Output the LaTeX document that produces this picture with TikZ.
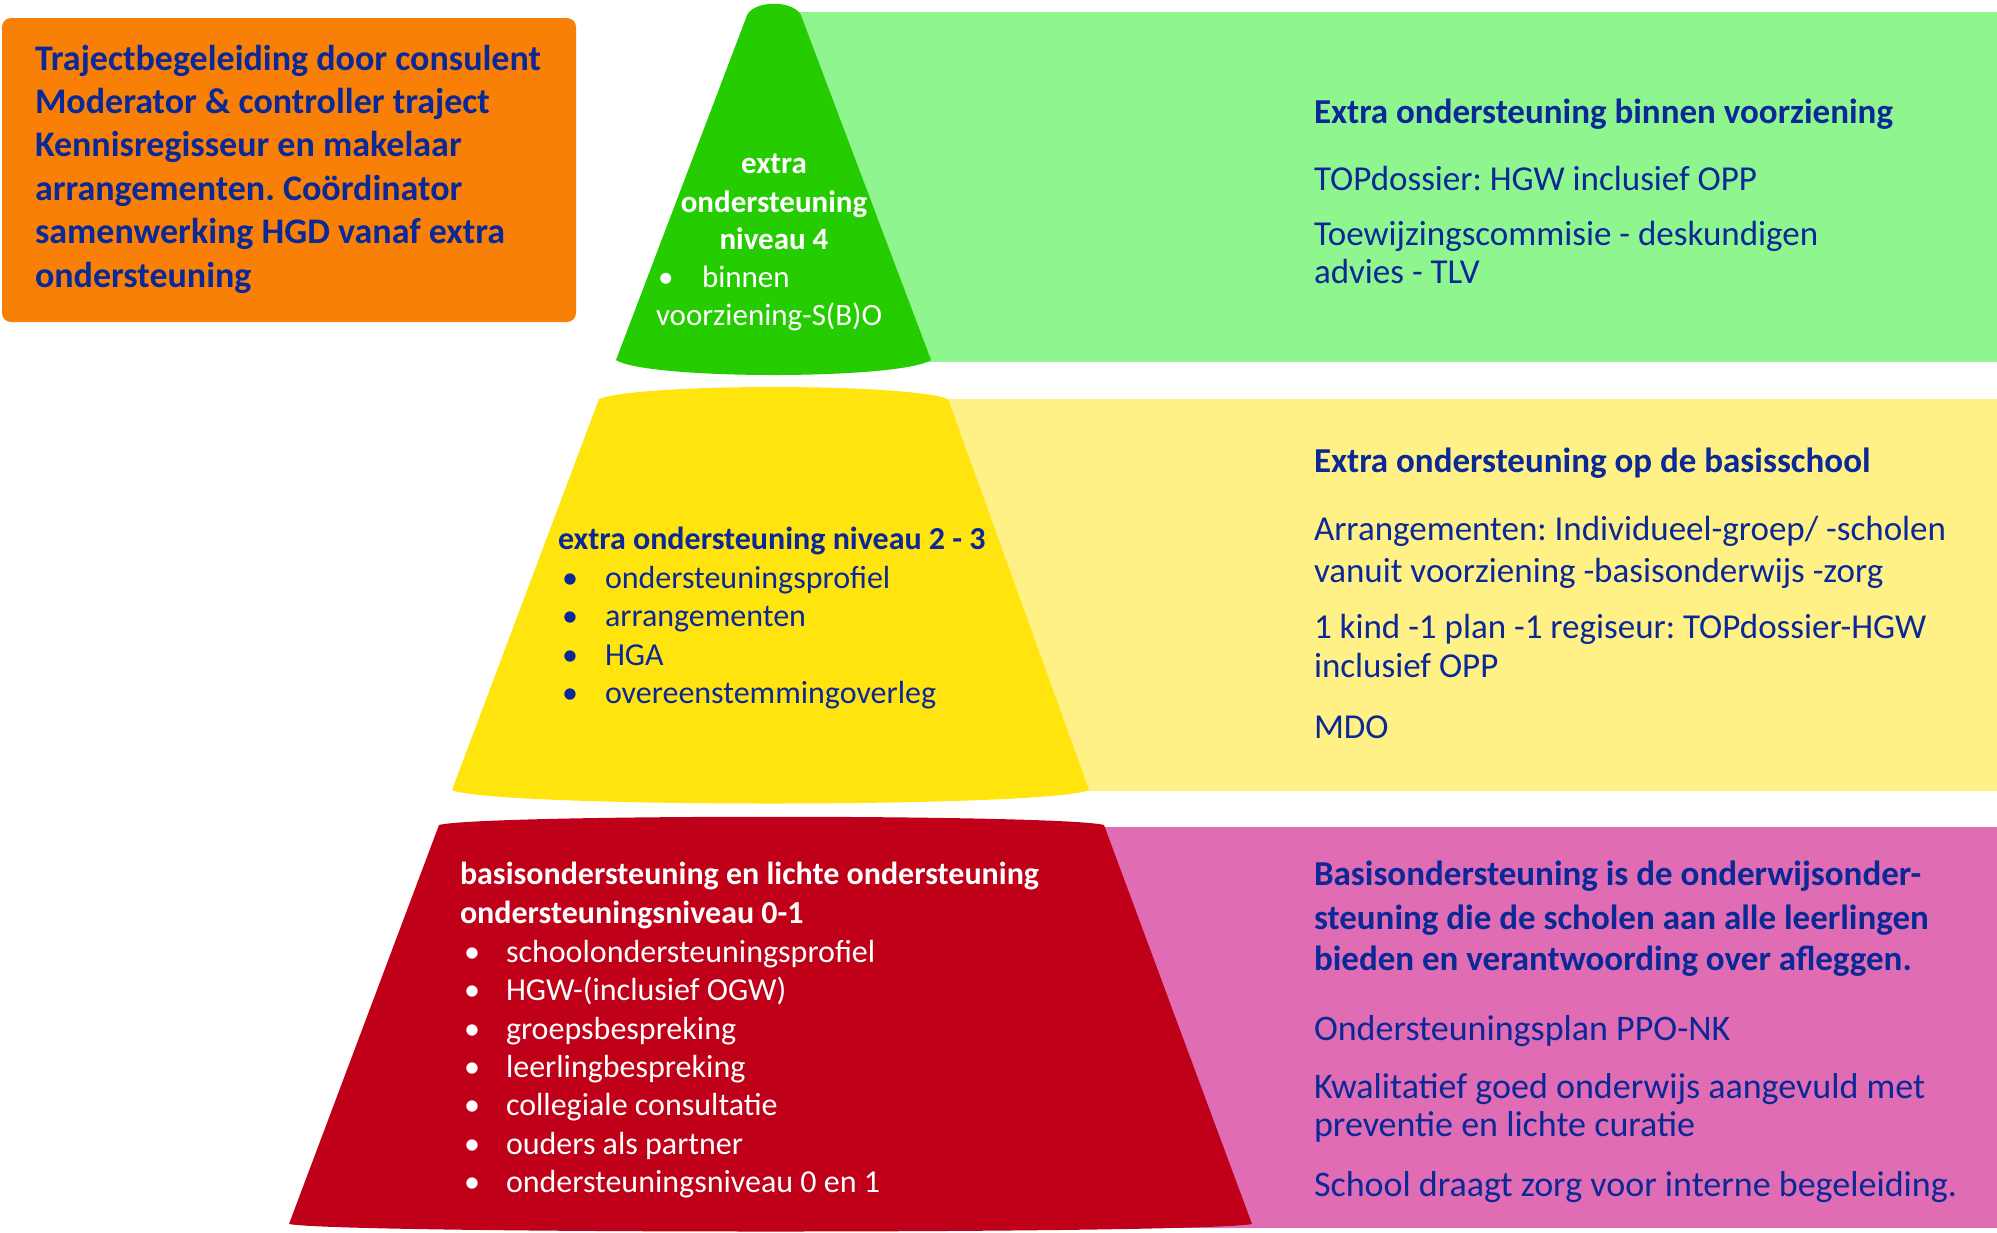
\documentclass[tikz,border=0pt]{standalone}
\usepackage{fontspec}
\setmainfont{Carlito}
\frenchspacing
\definecolor{txtblue}{RGB}{10,40,150}
\definecolor{orangebox}{RGB}{249,128,7}
\definecolor{conegreen}{RGB}{36,204,0}
\definecolor{bandgreen}{RGB}{143,245,143}
\definecolor{coneyellow}{RGB}{255,228,14}
\definecolor{bandyellow}{RGB}{255,241,133}
\definecolor{conered}{RGB}{192,0,24}
\definecolor{bandpink}{RGB}{224,108,180}
\newcommand\szOrange{\fontsize{36}{43}\selectfont}
\newcommand\szBand{\fontsize{35}{42}\selectfont}
\newcommand\szPink{\fontsize{36}{43}\selectfont}
\newcommand\szCone{\fontsize{31}{37}\selectfont}
\newcommand\szTrap{\fontsize{32}{38}\selectfont}
\tikzset{
  lbl/.style={anchor=mid west, inner sep=0pt, outer sep=0pt, yshift=-8.5pt},
  clbl/.style={anchor=mid, inner sep=0pt, outer sep=0pt, yshift=-8.5pt},
  orangetxt/.style={lbl, font=\szOrange\bfseries, text=txtblue},
  bandtxt/.style={lbl, font=\szBand, text=txtblue},
  pinktxt/.style={lbl, font=\szPink, text=txtblue},
  bandhead/.style={lbl, font=\szBand\bfseries, text=txtblue},
  conetxt/.style={lbl, font=\szCone, text=white},
  conehead/.style={clbl, font=\szCone\bfseries, text=white},
  ytxt/.style={lbl, font=\szTrap, text=txtblue},
  yhead/.style={lbl, font=\szTrap\bfseries, text=txtblue},
  rtxt/.style={lbl, font=\szTrap, text=white},
  rhead/.style={lbl, font=\szTrap\bfseries, text=white},
}
\begin{document}
\begin{tikzpicture}[x=1pt,y=-1pt]
\frenchspacing
\useasboundingbox (0,0) rectangle (1997,1232);
% bands
\fill[bandgreen] (795,12) rectangle (1997,362);
\fill[bandyellow] (935,399) rectangle (1997,791);
\fill[bandpink] (1000,827) rectangle (1997,1228);
% orange box
\fill[orangebox, rounded corners=9pt] (2,18) rectangle (576,322);
% green cone
\fill[conegreen] (746,18) .. controls (750,-1) and (798,-1) .. (802,18)
  -- (931,360) .. controls (900,380) and (647,380) .. (616,360) -- cycle;
% yellow trapezoid
\fill[coneyellow] (599,399) .. controls (640,383) and (907,383) .. (948,399)
  -- (1089,790) .. controls (1050,808) and (491,808) .. (452,790) -- cycle;
% red trapezoid
\fill[conered] (439,825) .. controls (480,814) and (1063,814) .. (1104,825)
  -- (1252,1224) .. controls (1200,1234) and (341,1234) .. (289,1224) -- cycle;

% orange box text
\node[orangetxt] (o1) at (35,60) {Trajectbegeleiding door consulent};
\node[orangetxt] (o2) at (35,103) {Moderator \& controller traject};
\node[orangetxt] (o3) at (35,146) {Kennisregisseur en makelaar};
\node[orangetxt] (o4) at (35,190) {arrangementen. Coördinator};
\node[orangetxt] (o5) at (35,233) {samenwerking HGD vanaf extra};
\node[orangetxt] (o6) at (35,277) {ondersteuning};

% green cone text
\node[conehead] (c1) at (774,163) {extra};
\node[conehead] (c2) at (774,202) {ondersteuning};
\node[conehead] (c3) at (774,239) {niveau 4};
\node[conetxt] (c4b) at (658,277) {•};
\node[conetxt] (c4) at (702,277) {binnen};
\node[conetxt] (c5) at (656,315) {voorziening-S(B)O};

% green band text
\node[bandhead] (g1) at (1314,113) {Extra ondersteuning binnen voorziening};
\node[bandtxt] (g2) at (1314,180) {TOPdossier: HGW inclusief OPP};
\node[bandtxt] (g3) at (1314,235) {Toewijzingscommisie - deskundigen};
\node[bandtxt] (g4) at (1314,273) {advies - TLV};

% yellow trapezoid text
\node[yhead] (y0) at (558,539) {extra ondersteuning niveau 2 - 3};
\foreach \t [count=\i] in {ondersteuningsprofiel, arrangementen, HGA, overeenstemmingoverleg}{
  \node[ytxt] (yb\i) at (562,{539+38.5*\i}) {•};
  \node[ytxt] (y\i) at (605,{539+38.5*\i}) {\t};
}

% yellow band text
\node[bandhead] (b1) at (1314,462) {Extra ondersteuning op de basisschool};
\node[bandtxt] (b2) at (1314,530) {Arrangementen: Individueel-groep/ -scholen};
\node[bandtxt] (b3) at (1314,572) {vanuit voorziening -basisonderwijs -zorg};
\node[bandtxt] (b4) at (1314,628) {1 kind -1 plan -1 regiseur: TOPdossier-HGW};
\node[bandtxt] (b5) at (1314,667) {inclusief OPP};
\node[bandtxt] (b6) at (1314,728) {MDO};

% red trapezoid text
\node[rhead] (r1) at (460,874) {basisondersteuning en lichte ondersteuning};
\node[rhead] (r2) at (460,913) {ondersteuningsniveau 0-1};
\foreach \t [count=\i] in {schoolondersteuningsprofiel, HGW-(inclusief OGW), groepsbespreking, leerlingbespreking, collegiale consultatie, ouders als partner, ondersteuningsniveau 0 en 1}{
  \node[rtxt] (rb\i) at (464,{913+38.4*\i}) {•};
  \node[rtxt] (ri\i) at (506,{913+38.4*\i}) {\t};
}

% pink band text
\node[bandhead] (p1) at (1314,875) {Basisondersteuning is de onderwijsonder-};
\node[bandhead] (p2) at (1314,919) {steuning die de scholen aan alle leerlingen};
\node[bandhead] (p3) at (1314,960) {bieden en verantwoording over afleggen.};
\node[pinktxt] (p4) at (1314,1030) {Ondersteuningsplan PPO-NK};
\node[pinktxt] (p5) at (1314,1088) {Kwalitatief goed onderwijs aangevuld met};
\node[pinktxt] (p6) at (1314,1126) {preventie en lichte curatie};
\node[pinktxt] (p7) at (1314,1186) {School draagt zorg voor interne begeleiding.};
\end{tikzpicture}
\end{document}
